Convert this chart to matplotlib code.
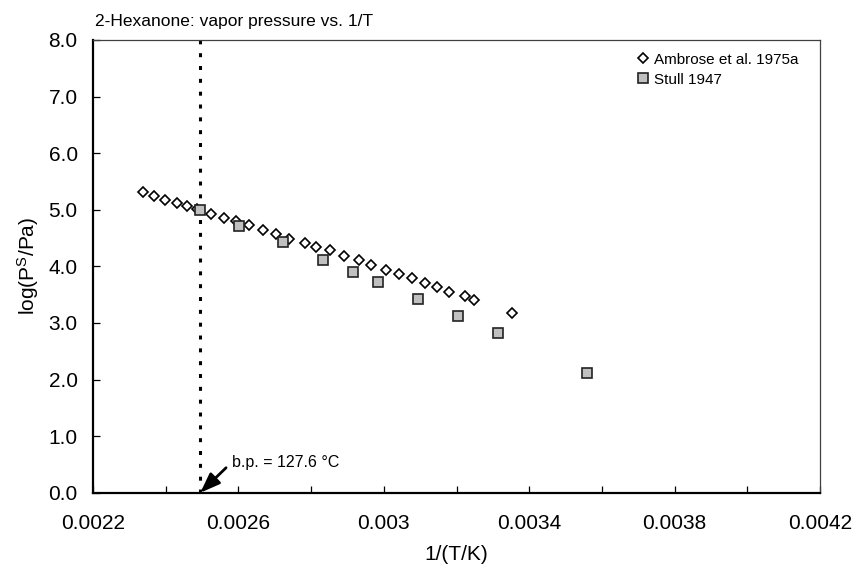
import matplotlib
matplotlib.use("Agg")
import matplotlib.pyplot as plt
from matplotlib.ticker import MultipleLocator, FuncFormatter

plt.rcParams['font.family'] = ['Liberation Sans', 'DejaVu Sans']
plt.rcParams['mathtext.default'] = 'regular'

# Data
ambrose_x = [0.002338, 0.002368, 0.002398, 0.002430, 0.002458, 0.002485, 0.002525,
             0.002560, 0.002593, 0.002630, 0.002667, 0.002703, 0.002740, 0.002783,
             0.002813, 0.002852, 0.002891, 0.002931, 0.002965, 0.003006, 0.003042,
             0.003078, 0.003113, 0.003147, 0.003180, 0.003223, 0.003248, 0.003353]
ambrose_y = [5.31, 5.25, 5.18, 5.12, 5.06, 5.01, 4.93,
             4.86, 4.80, 4.73, 4.65, 4.58, 4.49, 4.41,
             4.35, 4.28, 4.18, 4.11, 4.02, 3.94, 3.86,
             3.79, 3.71, 3.63, 3.55, 3.47, 3.41, 3.18]
stull_x = [0.002494, 0.002601, 0.002722, 0.002833, 0.002915, 0.002983,
           0.003094, 0.003203, 0.003313, 0.003559]
stull_y = [4.99, 4.72, 4.43, 4.12, 3.90, 3.72, 3.43, 3.12, 2.82, 2.12]
bp_celsius = 127.6
bp_x = 1.0 / (bp_celsius + 273.15)

fig = plt.figure(figsize=(8.56, 5.71), dpi=100)
ax = fig.add_axes([0.1086, 0.1371, 0.8494, 0.7929])

ax.plot([bp_x, bp_x], [0, 8], color='black', lw=2.2,
        linestyle=(0, (1.3, 2.9)), zorder=2)
ax.plot(ambrose_x, ambrose_y, linestyle='none', marker='D', markersize=4.8,
        markerfacecolor='white', markeredgecolor='black', markeredgewidth=1.2,
        label='Ambrose et al. 1975a', zorder=3)
ax.plot(stull_x, stull_y, linestyle='none', marker='s', markersize=6.6,
        markerfacecolor='#c0c0c0', markeredgecolor='#222222', markeredgewidth=1.2,
        label='Stull 1947', zorder=4)

ax.set_xlim(0.0022, 0.0042)
ax.set_ylim(0, 8)
ax.xaxis.set_major_locator(MultipleLocator(0.0002))
ax.yaxis.set_major_locator(MultipleLocator(1.0))

def xfmt(v, pos):
    k = round((v - 0.0022) / 0.0002)
    if k % 2 == 0:
        return f"{round(v, 6):g}"
    return ""

ax.xaxis.set_major_formatter(FuncFormatter(xfmt))
ax.yaxis.set_major_formatter(FuncFormatter(lambda v, p: f"{v:.1f}"))

ax.tick_params(axis='both', direction='in', length=5, width=0.9,
               labelsize=15, top=False, right=False)
ax.tick_params(axis='x', pad=15)
ax.tick_params(axis='y', pad=11)

for s in ['left', 'bottom']:
    ax.spines[s].set_linewidth(1.6)
    ax.spines[s].set_color('black')
for s in ['top', 'right']:
    ax.spines[s].set_linewidth(0.9)
    ax.spines[s].set_color('#404040')

ax.set_xlabel('1/(T/K)', fontsize=15, labelpad=9)
ax.set_ylabel('log(P$^S$/Pa)', fontsize=15, labelpad=5)
ax.set_title('2-Hexanone: vapor pressure vs. 1/T', loc='left', fontsize=12.5,
             pad=10, x=0.003)

ax.annotate(f'b.p. = {bp_celsius} °C', xy=(bp_x, 0), xytext=(0.002582, 0.54),
            textcoords='data', ha='left', va='center', fontsize=11.5,
            arrowprops=dict(arrowstyle='-|>,head_length=0.8,head_width=0.3',
                            mutation_scale=15, lw=2, color='black',
                            relpos=(0, 0.5), shrinkA=3, shrinkB=0))

leg = ax.legend(loc='upper left', bbox_to_anchor=(0.748, 0.972), frameon=False,
                fontsize=11, borderpad=0, borderaxespad=0, handlelength=0.8,
                handletextpad=0.3, labelspacing=0.4)

fig.savefig('out.png', dpi=100)
